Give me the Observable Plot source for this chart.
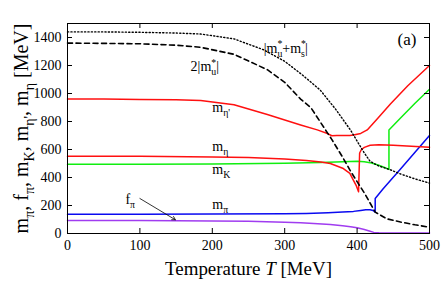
<!DOCTYPE html>
<html>
<head>
<meta charset="utf-8">
<script src="https://cdn.jsdelivr.net/npm/d3@7"></script>
<script src="https://cdn.jsdelivr.net/npm/@observablehq/plot@0.6"></script>
<style>
  html, body { margin: 0; padding: 0; background: #fff; }
  #chart svg { display: block; }
  #chart svg text { font-family: "Liberation Serif", "Times New Roman", serif !important; }
</style>
</head>
<body>
<div id="chart"></div>
<script>
// ---- data ----
const xTicks = [0, 100, 200, 300, 400, 500];
const yTicks = [0, 200, 400, 600, 800, 1000, 1200, 1400];

// |m_u* + m_s*|  (dotted)
const sumT = [0, 50, 100, 150, 184, 230, 271, 300, 325, 349, 370, 391, 400, 410, 418, 430, 446, 460, 480, 500];
const sumV = [1440, 1440, 1437, 1432, 1425, 1390, 1312, 1230, 1130, 1025, 890, 738, 660, 575, 515, 482, 455, 425, 390, 360];

// 2|m_u*|  (dashed)
const twoT = [0, 50, 100, 150, 184, 230, 276, 300, 322, 336, 350, 365, 380, 391, 400, 410, 425, 441, 460, 480, 500];
const twoV = [1360, 1358, 1355, 1345, 1330, 1280, 1170, 1080, 960, 900, 790, 672, 545, 445, 370, 290, 153, 105, 82, 62, 45];

// m_eta'
const etapT = [0, 50, 100, 150, 184, 230, 276, 322, 345, 360, 365, 372, 380, 390, 395, 405, 414, 428, 446, 470, 500];
const etapV = [960, 960, 958, 955, 950, 920, 850, 775, 740, 712, 698, 700, 700, 700, 703, 715, 740, 820, 925, 1055, 1200];

// m_eta
const etaT = [0, 100, 200, 250, 300, 330, 350, 363, 381, 390, 395, 399, 402, 403.5, 406, 410, 418, 430, 450, 475, 500];
const etaV = [552, 551, 547, 542, 532, 522, 510, 500, 464, 430, 380, 340, 298, 575, 600, 615, 630, 634, 630, 624, 616];

// m_K
const kT = [0, 100, 200, 300, 350, 380, 400, 410, 420, 430, 438, 444, 444, 460, 480, 500];
const kV = [495, 495, 497, 502, 507, 512, 516, 512, 503, 488, 472, 458, 740, 825, 930, 1030];

// m_pi
const piT = [0, 100, 200, 300, 330, 360, 380, 395, 405, 412, 418, 422, 425, 425, 436, 460, 480, 500];
const piV = [138, 138, 139, 141, 143, 148, 153, 158, 165, 170, 170, 165, 152, 250, 320, 460, 580, 700];

// f_pi
const fpiT = [0, 100, 200, 250, 300, 322, 340, 363, 380, 391, 400, 410, 418, 423, 430, 500];
const fpiV = [93, 92, 90, 87, 81, 76, 71, 64, 55, 48, 41, 28, 16, 8, 5, 4];

// annotations
const labelText = ["|m^{*}_{u}+m^{*}_{s}|", "2|m^{*}_{u}|", "m_{η'}", "m_{η}", "m_{K}", "m_{π}", "f_{π}"];
const labelT    = [271, 170, 200, 200, 200, 200, 80];
const labelV    = [1320, 1190, 900, 624, 459, 204, 245];
const panelText = ["(a)"];
const panelT = [469];
const panelV = [1383];
const arrowFrom = [100, 250];
const arrowTo   = [149, 98];

const xTitle = "Temperature ~{T} [MeV]";
const yTitle = "m_{π}, f_{π}, m_{K}, m_{η'}, m_{η} [MeV]";

const pts = (T, V) => T.map((t, i) => [t, V[i]]);

const FONT = "Liberation Serif";
const W = 443, H = 283, ML = 67, MR = 14, MT = 23, MB = 50;
const innerW = W - ML - MR, innerH = H - MT - MB;
const tickLen = 5;

const chart = Plot.plot({
  width: W, height: H,
  marginLeft: ML, marginRight: MR, marginTop: MT, marginBottom: MB,
  style: { background: "#fff", color: "#000" },
  x: { domain: [0, 500] },
  y: { domain: [0, 1500] },
  marks: [
    Plot.axisX({ ticks: xTicks, tickSize: 0, tickPadding: 7, label: null, tickFormat: d => String(d),
      fontSize: 14, fontFamily: FONT, fill: "#000" }),
    Plot.axisY({ ticks: yTicks, tickSize: 0, tickPadding: 6, label: null, tickFormat: d => String(d),
      fontSize: 14, fontFamily: FONT, fill: "#000" }),
    Plot.line(pts(fpiT, fpiV), { stroke: "#a03cf0", strokeWidth: 1.5 }),
    Plot.line(pts(piT, piV), { stroke: "#0a0af0", strokeWidth: 1.5 }),
    Plot.line(pts(kT, kV), { stroke: "#10ee10", strokeWidth: 1.5 }),
    Plot.line(pts(etaT, etaV), { stroke: "#ff1010", strokeWidth: 1.5 }),
    Plot.line(pts(etapT, etapV), { stroke: "#ff1010", strokeWidth: 1.5 }),
    Plot.line(pts(twoT, twoV), { stroke: "#000", strokeWidth: 1.6, strokeDasharray: "5,3.5" }),
    Plot.line(pts(sumT, sumV), { stroke: "#000", strokeWidth: 1.4, strokeDasharray: "1.2,2.2" }),
    // inward ticks on all four sides
    Plot.tickX(xTicks, { x: d => d, stroke: "#000", insetTop: innerH - tickLen }),
    Plot.tickX(xTicks, { x: d => d, stroke: "#000", insetBottom: innerH - tickLen }),
    Plot.tickY(yTicks, { y: d => d, stroke: "#000", insetRight: innerW - tickLen }),
    Plot.tickY(yTicks, { y: d => d, stroke: "#000", insetLeft: innerW - tickLen }),
    Plot.frame({ stroke: "#000", strokeWidth: 1 }),
    Plot.arrow([0], { x1: () => arrowFrom[0], y1: () => arrowFrom[1], x2: () => arrowTo[0], y2: () => arrowTo[1],
      stroke: "#000", strokeWidth: 0.8, headLength: 7 }),
    Plot.text(labelText, { x: (d, i) => labelT[i], y: (d, i) => labelV[i], text: d => d,
      textAnchor: "start", lineAnchor: "middle", fontSize: 14, fontFamily: FONT, fill: "#000" }),
    Plot.text(panelText, { x: (d, i) => panelT[i], y: (d, i) => panelV[i], text: d => d,
      textAnchor: "middle", lineAnchor: "middle", fontSize: 17, fontFamily: FONT, fill: "#000" }),
    Plot.text([xTitle], { frameAnchor: "bottom", dy: 35, text: d => d, textAnchor: "middle", lineAnchor: "middle",
      fontSize: 18, fontFamily: FONT, fill: "#000", className: "xtitle" }),
    Plot.text([yTitle], { frameAnchor: "left", dx: -46, rotate: -90, text: d => d, textAnchor: "middle", lineAnchor: "middle",
      fontSize: 18, fontFamily: FONT, fill: "#000", className: "ytitle" })
  ]
});

document.getElementById("chart").appendChild(chart);

const NS = "http://www.w3.org/2000/svg";
// rich text: _{sub}, ^{sup}, ~{italic}
function rich(el, s, fs) {
  while (el.firstChild) el.removeChild(el.firstChild);
  el.setAttribute("font-size", fs.toFixed(2));
  const parts = s.split(/(\^\{[^}]*\}|_\{[^}]*\}|~\{[^}]*\})/);
  let shift = 0, prevSup = null;
  for (const p of parts) {
    if (!p) continue;
    let kind = "n", txt = p;
    if (p.startsWith("_{")) { kind = "sub"; txt = p.slice(2, -1); }
    else if (p.startsWith("^{")) { kind = "sup"; txt = p.slice(2, -1); }
    else if (p.startsWith("~{")) { kind = "it"; txt = p.slice(2, -1); }
    const t = document.createElementNS(NS, "tspan");
    const target = kind === "sub" ? 0.28 * fs : kind === "sup" ? -0.42 * fs : 0;
    if (target - shift !== 0) t.setAttribute("dy", (target - shift).toFixed(2));
    shift = target;
    if (kind === "sub" || kind === "sup") t.setAttribute("font-size", (0.7 * fs).toFixed(2));
    if (kind === "it") t.setAttribute("font-style", "italic");
    t.textContent = txt;
    el.appendChild(t);
    if (kind === "sub" && prevSup) {
      const w = prevSup.getComputedTextLength();
      t.setAttribute("dx", (-w).toFixed(2));
    }
    prevSup = kind === "sup" ? t : null;
  }
}
chart.querySelectorAll("text").forEach(el => {
  const s = el.textContent;
  if (!/[_^~]\{/.test(s)) return;
  const fs = parseFloat(getComputedStyle(el).fontSize) || 14;
  rich(el, s, fs);
});
// fit the axis titles to the length they have in the reference
function fit(sel, s, target) {
  const el = chart.querySelector(sel + " text");
  if (!el) return;
  const fs = parseFloat(getComputedStyle(el).fontSize) || 18;
  const len = el.getComputedTextLength();
  if (len > 0) rich(el, s, Math.min(20, fs * target / len));
}
fit(".xtitle", xTitle, 167);
fit(".ytitle", yTitle, 212);
</script>
</body>
</html>
